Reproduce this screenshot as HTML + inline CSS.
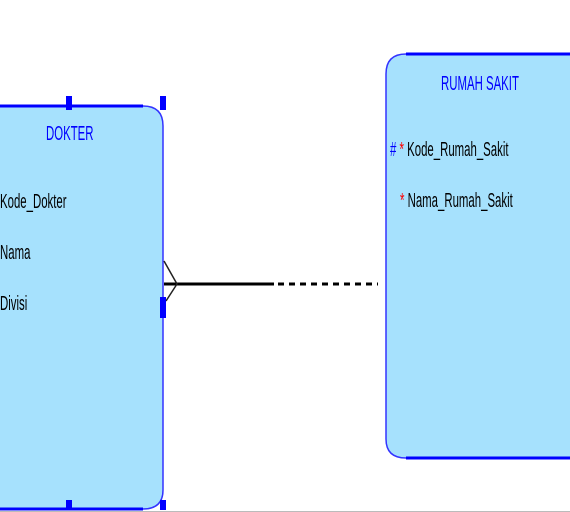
<!DOCTYPE html>
<html><head><style>
html,body{margin:0;padding:0;width:570px;height:512px;overflow:hidden;background:#fff;position:relative}
.t{position:absolute;font-family:"Liberation Sans Narrow","Liberation Sans",sans-serif;font-size:20px;transform:scaleX(0.57);transform-origin:left top;white-space:nowrap;color:#000;line-height:20px}
.h{position:absolute;background:#0000ff}
</style></head><body>
<svg width="570" height="512" style="position:absolute;left:0;top:0">
  <path d="M-20,106 H143 Q163,106 163,126 V490 Q163,509 143,509 H-20 Z" fill="#a6e1fd" stroke="none"/>
  <path d="M-20,106 H143" stroke="#0000ff" stroke-width="3" fill="none"/>
  <path d="M143,106 Q163,106 163,126 V490 Q163,509 143,509" stroke="#3333ff" stroke-width="1.5" fill="none"/>
  <path d="M-20,509 H143" stroke="#0000ff" stroke-width="3" fill="none"/>
  <path d="M590,54 H406 Q386,54 386,74 V439 Q386,458 406,458 H590 Z" fill="#a6e1fd" stroke="none"/>
  <path d="M590,54 H406" stroke="#0000ff" stroke-width="3" fill="none"/>
  <path d="M406,54 Q386,54 386,74 V439 Q386,458 406,458" stroke="#3333ff" stroke-width="1.5" fill="none"/>
  <path d="M406,458 H590" stroke="#0000ff" stroke-width="3" fill="none"/>
  <line x1="0" y1="511.5" x2="570" y2="511.5" stroke="#bbb" stroke-width="1"/>
  <line x1="164" y1="284" x2="274" y2="284" stroke="#000" stroke-width="3"/>
  <line x1="278" y1="284" x2="378" y2="284" stroke="#000" stroke-width="3" stroke-dasharray="6,5"/>
  <polyline points="164,261 177,284 166,301" fill="none" stroke="#222" stroke-width="1.5"/>
</svg>
<div class="h" style="left:66px;top:96px;width:6px;height:14px"></div>
<div class="h" style="left:160px;top:96px;width:6px;height:14px"></div>
<div class="h" style="left:160px;top:297px;width:6px;height:21px"></div>
<div class="h" style="left:66px;top:500px;width:6px;height:8px"></div>
<div class="h" style="left:160px;top:500px;width:6px;height:10px"></div>
<div class="t" style="left:46px;top:124px;color:#0000ff">DOKTER</div>
<div class="t" style="left:0px;top:192px">Kode_Dokter</div>
<div class="t" style="left:0px;top:243px">Nama</div>
<div class="t" style="left:0px;top:294px">Divisi</div>
<div class="t" style="left:441px;top:74px;color:#0000ff">RUMAH SAKIT</div>
<div class="t" style="left:390px;top:140px"><span style="color:#0000ff">#</span> <span style="color:#ff0000">*</span> Kode_Rumah_Sakit</div>
<div class="t" style="left:400px;top:191px"><span style="color:#ff0000">*</span> Nama_Rumah_Sakit</div>
</body></html>
